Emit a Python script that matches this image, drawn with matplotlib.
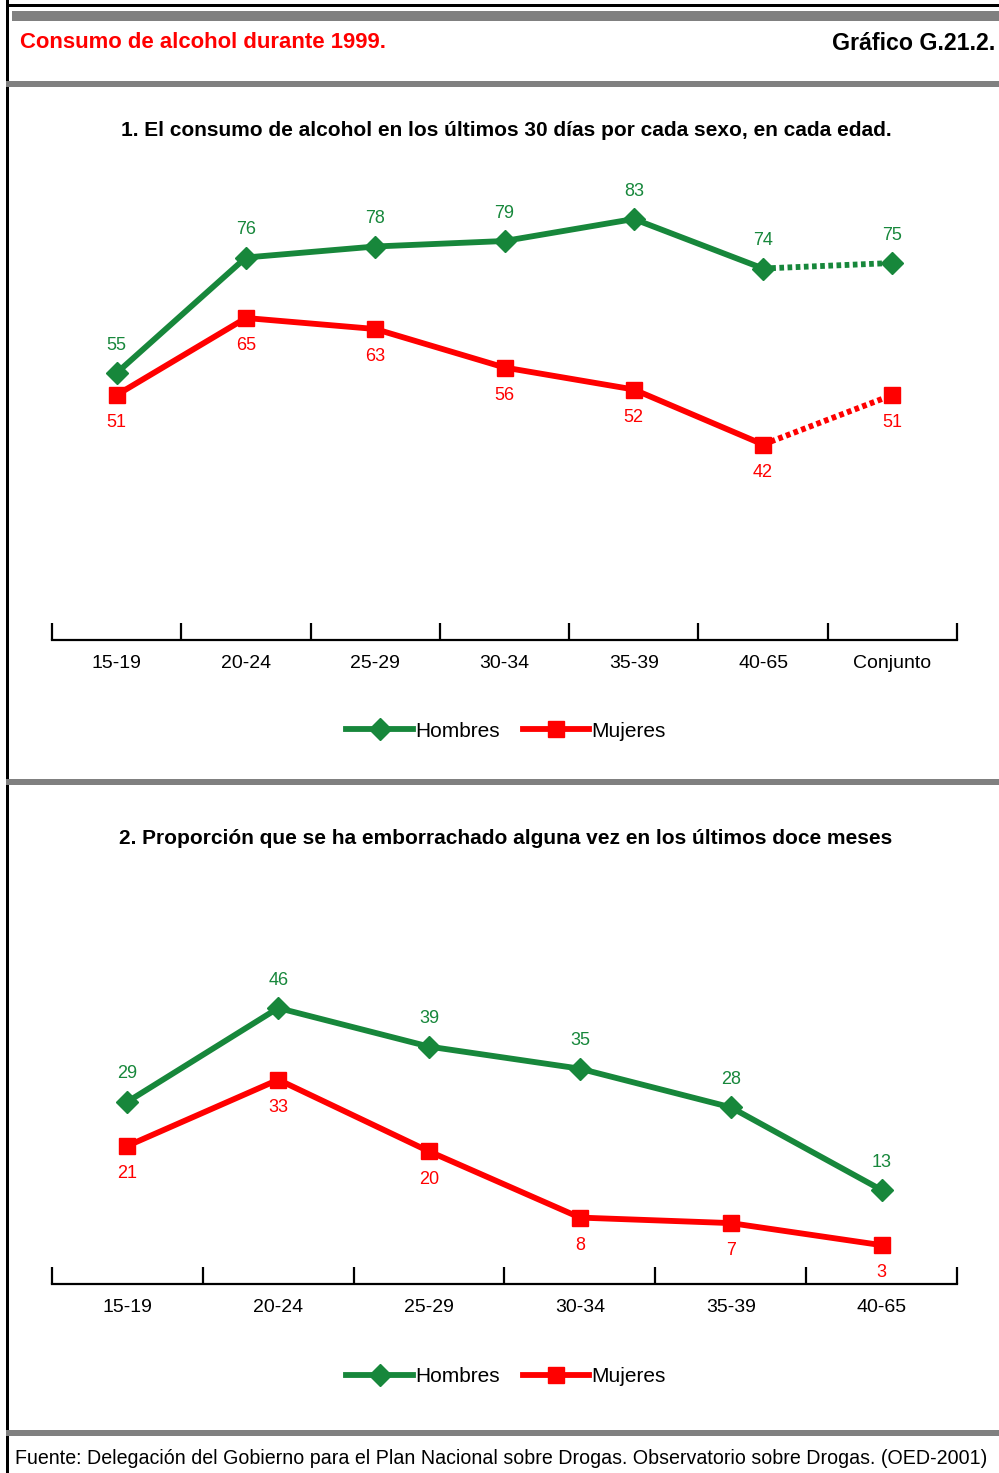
import numpy as np
import matplotlib.pyplot as plt
from matplotlib.patches import Rectangle

# --- data ---
edades1 = ["15-19", "20-24", "25-29", "30-34", "35-39", "40-65", "Conjunto"]
hombres1 = [55, 76, 78, 79, 83, 74, 75]
mujeres1 = [51, 65, 63, 56, 52, 42, 51]

edades2 = ["15-19", "20-24", "25-29", "30-34", "35-39", "40-65"]
hombres2 = [29, 46, 39, 35, 28, 13]
mujeres2 = [21, 33, 20, 8, 7, 3]

titulo = "Consumo de alcohol durante 1999."
grafico = "Gráfico G.21.2."
sub1 = "1. El consumo de alcohol en los últimos 30 días por cada sexo, en cada edad."
sub2 = "2. Proporción que se ha emborrachado alguna vez en los últimos doce meses"
fuente = ("Fuente: Delegación del Gobierno para el Plan Nacional sobre Drogas. "
          "Observatorio sobre Drogas. (OED-2001)")

VERDE = "#17873b"
ROJO = "#ff0000"
GRIS = "#808080"

W, H = 999, 1473
fig = plt.figure(figsize=(W / 100, H / 100), dpi=100)
fig.patch.set_facecolor("white")

sans = ["Liberation Sans", "DejaVu Sans"]


def fx(px):
    return px / W


def fy(py):
    return 1 - py / H


def rect(x0, y0, x1, y1, color):
    fig.add_artist(Rectangle((fx(x0), fy(y1)), fx(x1) - fx(x0), fy(y0) - fy(y1),
                             transform=fig.transFigure, facecolor=color,
                             edgecolor="none", zorder=5))


# frame and grey bands
rect(6, 0, 9, H, "black")
rect(6, 4, W, 7, "black")
rect(12, 11, W, 21, GRIS)
rect(6, 81, W, 87, GRIS)
rect(6, 779, W, 785, GRIS)
rect(6, 1430, W, 1436, GRIS)

fig.text(fx(20), fy(43), titulo, color=ROJO, fontsize=15.9, fontweight="bold",
         family=sans, ha="left", va="center")
fig.text(fx(995), fy(43), grafico, color="black", fontsize=16.7, fontweight="bold",
         family=sans, ha="right", va="center")
fig.text(fx(506), fy(131), sub1, fontsize=15, fontweight="bold", family=sans,
         ha="center", va="center")
fig.text(fx(506), fy(838), sub2, fontsize=15, fontweight="bold", family=sans,
         ha="center", va="center")
fig.text(fx(15), fy(1458), fuente, fontsize=14.1, family=sans, ha="left", va="center")


def panel(top_px, bottom_px, y_top, y_bottom, cats, hom, muj, leg_y, dashed_last):
    ax = fig.add_axes([fx(52), fy(bottom_px), fx(957) - fx(52), fy(top_px) - fy(bottom_px)])
    n = len(cats)
    x = np.arange(n)
    m = n - 1 if dashed_last else n
    ax.plot(x[:m], hom[:m], color=VERDE, lw=4.2, marker="D", ms=11, label="Hombres",
            clip_on=False)
    ax.plot(x[:m], muj[:m], color=ROJO, lw=4.2, marker="s", ms=12, label="Mujeres",
            clip_on=False)
    if dashed_last:
        ax.plot(x[m - 1:], hom[m - 1:], color=VERDE, lw=4.2, ls=(0, (0.8, 0.6)),
                marker="D", ms=11, markevery=[1])
        ax.plot(x[m - 1:], muj[m - 1:], color=ROJO, lw=4.2, ls=(0, (0.8, 0.6)),
                marker="s", ms=12, markevery=[1])
    for xi, h, mu in zip(x, hom, muj):
        ax.annotate(str(h), (xi, h), xytext=(0, 20), textcoords="offset points",
                    ha="center", va="center", color=VERDE, fontsize=13, family=sans)
        ax.annotate(str(mu), (xi, mu), xytext=(0, -20), textcoords="offset points",
                    ha="center", va="center", color=ROJO, fontsize=13, family=sans)
    ax.set_xlim(-0.5, n - 0.5)
    ax.set_ylim(y_bottom, y_top)
    for s in ["top", "right", "left"]:
        ax.spines[s].set_visible(False)
    ax.spines["bottom"].set_linewidth(1.6)
    ax.set_yticks([])
    ax.set_xticks(np.arange(n + 1) - 0.5)
    ax.set_xticklabels([])
    ax.tick_params(axis="x", which="major", direction="in", length=12, width=1.6)
    ax.set_xticks(x, minor=True)
    ax.set_xticklabels(cats, minor=True, fontsize=14, family=sans)
    ax.tick_params(axis="x", which="minor", length=0, pad=11)
    h_, l_ = ax.get_legend_handles_labels()
    fig.legend(h_, l_, loc="center", bbox_to_anchor=(fx(506), fy(leg_y)), ncol=2,
               frameon=False, handlelength=3.2, columnspacing=1.1,
               handletextpad=0.1, prop={"family": sans, "size": 15})
    return ax


# y ranges chosen so the values land where the reference puts them
panel(160, 640, (675.5 - 160) / 5.5, (675.5 - 640) / 5.5, edades1, hombres1, mujeres1, 731, True)
panel(960, 1284, (1261.7 - 960) / 5.515, (1261.7 - 1284) / 5.515, edades2, hombres2, mujeres2, 1377, False)

fig.savefig("out.png", dpi=100)
